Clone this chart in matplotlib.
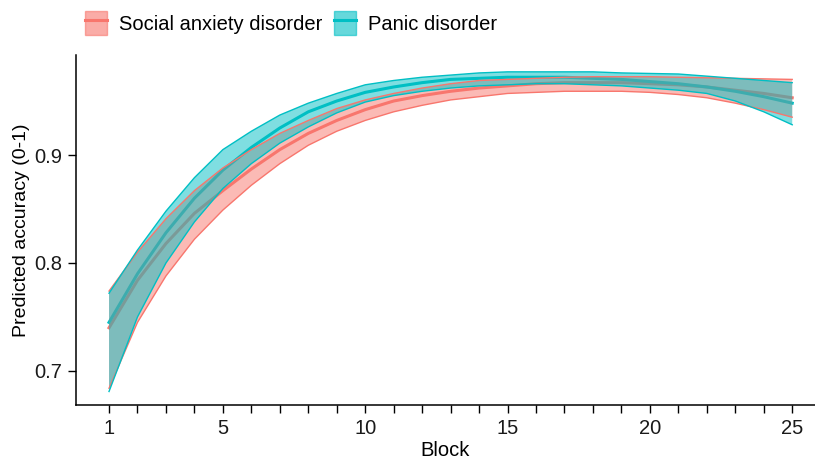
import numpy as np
import matplotlib
matplotlib.use("Agg")
import matplotlib.pyplot as plt
from matplotlib.patches import Patch
from matplotlib.lines import Line2D
from matplotlib.legend_handler import HandlerTuple

plt.rcParams['font.family'] = ['Liberation Sans', 'DejaVu Sans']

# predicted accuracy per block
blocks = np.arange(1, 26)
groups = ['Social anxiety disorder', 'Panic disorder']
colors = ['#F8766D', '#00BFC4']

sad_fit = [0.740, 0.784, 0.818, 0.846, 0.867, 0.887, 0.905, 0.920, 0.932, 0.942,
           0.950, 0.955, 0.959, 0.962, 0.964, 0.966, 0.967, 0.967, 0.967, 0.966,
           0.965, 0.963, 0.960, 0.957, 0.953]
sad_lo = [0.684, 0.745, 0.788, 0.822, 0.849, 0.872, 0.892, 0.909, 0.922, 0.932,
          0.940, 0.946, 0.951, 0.954, 0.957, 0.958, 0.959, 0.959, 0.959, 0.958,
          0.956, 0.953, 0.948, 0.942, 0.935]
sad_hi = [0.774, 0.810, 0.841, 0.867, 0.888, 0.905, 0.920, 0.932, 0.943, 0.951,
          0.957, 0.962, 0.966, 0.969, 0.970, 0.971, 0.972, 0.9725, 0.9725, 0.9725,
          0.972, 0.9715, 0.971, 0.9705, 0.970]

pd_fit = [0.745, 0.790, 0.828, 0.860, 0.886, 0.907, 0.925, 0.940, 0.950, 0.958,
          0.963, 0.967, 0.970, 0.971, 0.972, 0.972, 0.972, 0.971, 0.970, 0.968,
          0.966, 0.963, 0.959, 0.954, 0.948]
pd_lo = [0.681, 0.750, 0.800, 0.838, 0.869, 0.892, 0.911, 0.926, 0.939, 0.949,
         0.955, 0.959, 0.962, 0.964, 0.965, 0.966, 0.966, 0.965, 0.964, 0.962,
         0.960, 0.957, 0.950, 0.940, 0.928]
pd_hi = [0.772, 0.812, 0.848, 0.879, 0.905, 0.922, 0.937, 0.948, 0.957, 0.965,
         0.969, 0.972, 0.974, 0.976, 0.977, 0.977, 0.977, 0.977, 0.976, 0.9755,
         0.975, 0.973, 0.971, 0.969, 0.967]

fits = [sad_fit, pd_fit]
los = [sad_lo, pd_lo]
his = [sad_hi, pd_hi]

fig = plt.figure(figsize=(8.15, 4.61), dpi=100)
ax = fig.add_axes([76/815, 56/461, (815-76)/815, (405-55)/461])

# lines first, ribbons on top (as in the original)
for fit, col in zip(fits, colors):
    ax.plot(blocks, fit, color=col, lw=2.2, zorder=1)
for lo, hi, col in zip(los, his, colors):
    ax.fill_between(blocks, lo, hi, facecolor=col, alpha=0.5, edgecolor='none', zorder=2)
    ax.plot(blocks, lo, color=col, lw=1, zorder=3)
    ax.plot(blocks, hi, color=col, lw=1, zorder=3)

ax.set_xlim(-0.16, 25.8)
ax.set_ylim(0.6685, 0.9926)
ax.set_xticks(blocks)
ax.set_xticklabels([str(b) if b in (1, 5, 10, 15, 20, 25) else '' for b in blocks])
ax.set_yticks([0.7, 0.8, 0.9])
ax.set_yticklabels(['0.7', '0.8', '0.9'])
ax.tick_params(labelsize=14.5, length=6, width=1, color='black', labelcolor='#1a1a1a', pad=4)
for s in ['top', 'right']:
    ax.spines[s].set_visible(False)
for s in ['left', 'bottom']:
    ax.spines[s].set_linewidth(1.1)
ax.set_xlabel('Block', fontsize=14.5, labelpad=2)
ax.set_ylabel('Predicted accuracy (0-1)', fontsize=14, labelpad=3)

handles = []
for col in colors:
    handles.append((Patch(facecolor=col, alpha=0.6, edgecolor=col, linewidth=1),
                    Line2D([], [], color=col, lw=2.2)))
fig.legend(handles, groups, loc='center left', bbox_to_anchor=(67/815, 1 - 23/461),
           ncol=2, frameon=False, fontsize=14.5, handlelength=1.09, handleheight=1.45,
           handletextpad=0.6, columnspacing=0.55,
           handler_map={tuple: HandlerTuple(ndivide=1, pad=0)})

fig.savefig('out.png', dpi=100)
